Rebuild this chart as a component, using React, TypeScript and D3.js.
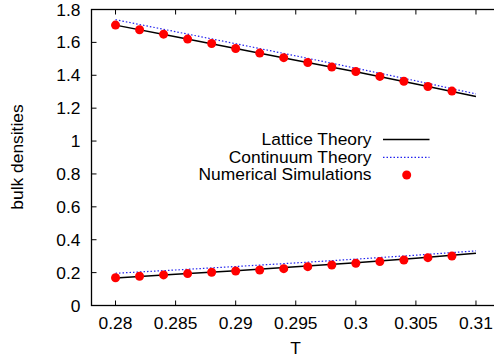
import React from "react";
import * as d3 from "d3";

const simT = [0.28, 0.282, 0.284, 0.286, 0.288, 0.29, 0.292, 0.294, 0.296, 0.298, 0.3, 0.302, 0.304, 0.306, 0.308];
const simUpper = [1.705, 1.677, 1.65, 1.62, 1.593, 1.563, 1.535, 1.507, 1.478, 1.45, 1.423, 1.393, 1.364, 1.332, 1.304];
const simLower = [0.169, 0.178, 0.186, 0.194, 0.202, 0.21, 0.216, 0.224, 0.236, 0.246, 0.257, 0.267, 0.277, 0.291, 0.301];

const theoryT = [0.28, 0.285, 0.29, 0.295, 0.3, 0.305, 0.31];
const latticeUpper = [1.705, 1.634, 1.563, 1.492, 1.421, 1.347, 1.271];
const latticeLower = [0.167, 0.19, 0.212, 0.236, 0.26, 0.288, 0.318];
const continuumUpper = [1.738, 1.665, 1.592, 1.518, 1.443, 1.366, 1.287];
const continuumLower = [0.196, 0.216, 0.237, 0.259, 0.282, 0.306, 0.332];

const xTicks = [0.28, 0.285, 0.29, 0.295, 0.3, 0.305, 0.31];
const xTickLabels = ["0.28", "0.285", "0.29", "0.295", "0.3", "0.305", "0.31"];
const yTicks = [0, 0.2, 0.4, 0.6, 0.8, 1, 1.2, 1.4, 1.6, 1.8];
const yTickLabels = ["0", "0.2", "0.4", "0.6", "0.8", "1", "1.2", "1.4", "1.6", "1.8"];
const legendLabels = ["Lattice Theory", "Continuum Theory", "Numerical Simulations"];

const W = 494, H = 360;
const left = 91.5, right = 500, top = 9.5, bottom = 305.5;
const font = "'Liberation Sans', Arial, sans-serif";
const fs = 17.4;

export default function App() {
  const x = d3.scaleLinear().domain([0.278, 0.312]).range([left, right]);
  const y = d3.scaleLinear().domain([0, 1.8]).range([bottom, top]);
  const line = d3.line<[number, number]>().x(d => x(d[0])).y(d => y(d[1]));
  const mk = (ys: number[]) => theoryT.map((t, i) => [t, ys[i]] as [number, number]);
  const tick = 5;
  return (
    <svg width={W} height={H} style={{ position: "absolute", left: 0, top: 0 }} fontFamily={font}>
      <rect width={W} height={H} fill="#fff" />
      {xTicks.map((t, i) => (
        <g key={"x" + i}>
          <line x1={x(t)} x2={x(t)} y1={bottom} y2={bottom - tick} stroke="#000" strokeWidth={1} />
          <line x1={x(t)} x2={x(t)} y1={top} y2={top + tick} stroke="#000" strokeWidth={1} />
          <text x={x(t)} y={329} textAnchor="middle" fontSize={fs} fill="#000">{xTickLabels[i]}</text>
        </g>
      ))}
      {yTicks.map((t, i) => (
        <g key={"y" + i}>
          <line x1={left} x2={left + tick} y1={y(t)} y2={y(t)} stroke="#000" strokeWidth={1} />
          <text x={80.5} y={y(t) + 6} textAnchor="end" fontSize={fs} fill="#000">{yTickLabels[i]}</text>
        </g>
      ))}
      <rect x={left} y={top} width={right - left} height={bottom - top} fill="none" stroke="#000" strokeWidth={1.3} />
      <text x={295.5} y={354} textAnchor="middle" fontSize={fs} fill="#000">T</text>
      <text transform={`translate(23,157) rotate(-90)`} textAnchor="middle" fontSize={fs} fill="#000">bulk densities</text>
      <path d={line(mk(latticeUpper)) || ""} fill="none" stroke="#000" strokeWidth={1.5} />
      <path d={line(mk(latticeLower)) || ""} fill="none" stroke="#000" strokeWidth={1.5} />
      <path d={line(mk(continuumUpper)) || ""} fill="none" stroke="#2222ee" strokeWidth={1.2} strokeDasharray="1.5,2" />
      <path d={line(mk(continuumLower)) || ""} fill="none" stroke="#2222ee" strokeWidth={1.2} strokeDasharray="1.5,2" />
      {simT.map((t, i) => (
        <circle key={"u" + i} cx={x(t)} cy={y(simUpper[i])} r={4.5} fill="#ff0000" />
      ))}
      {simT.map((t, i) => (
        <circle key={"l" + i} cx={x(t)} cy={y(simLower[i])} r={4.5} fill="#ff0000" />
      ))}
      <g>
        <text x={371.5} y={145} textAnchor="end" fontSize={fs} fill="#000">{legendLabels[0]}</text>
        <line x1={383} x2={429.5} y1={139.5} y2={139.5} stroke="#000" strokeWidth={1.5} />
        <text x={371.5} y={162.5} textAnchor="end" fontSize={fs} fill="#000">{legendLabels[1]}</text>
        <line x1={383} x2={429.5} y1={157.3} y2={157.3} stroke="#2222ee" strokeWidth={1.2} strokeDasharray="1.5,2" />
        <text x={371.5} y={180} textAnchor="end" fontSize={fs} fill="#000">{legendLabels[2]}</text>
        <circle cx={406.7} cy={175} r={4.5} fill="#ff0000" />
      </g>
    </svg>
  );
}
